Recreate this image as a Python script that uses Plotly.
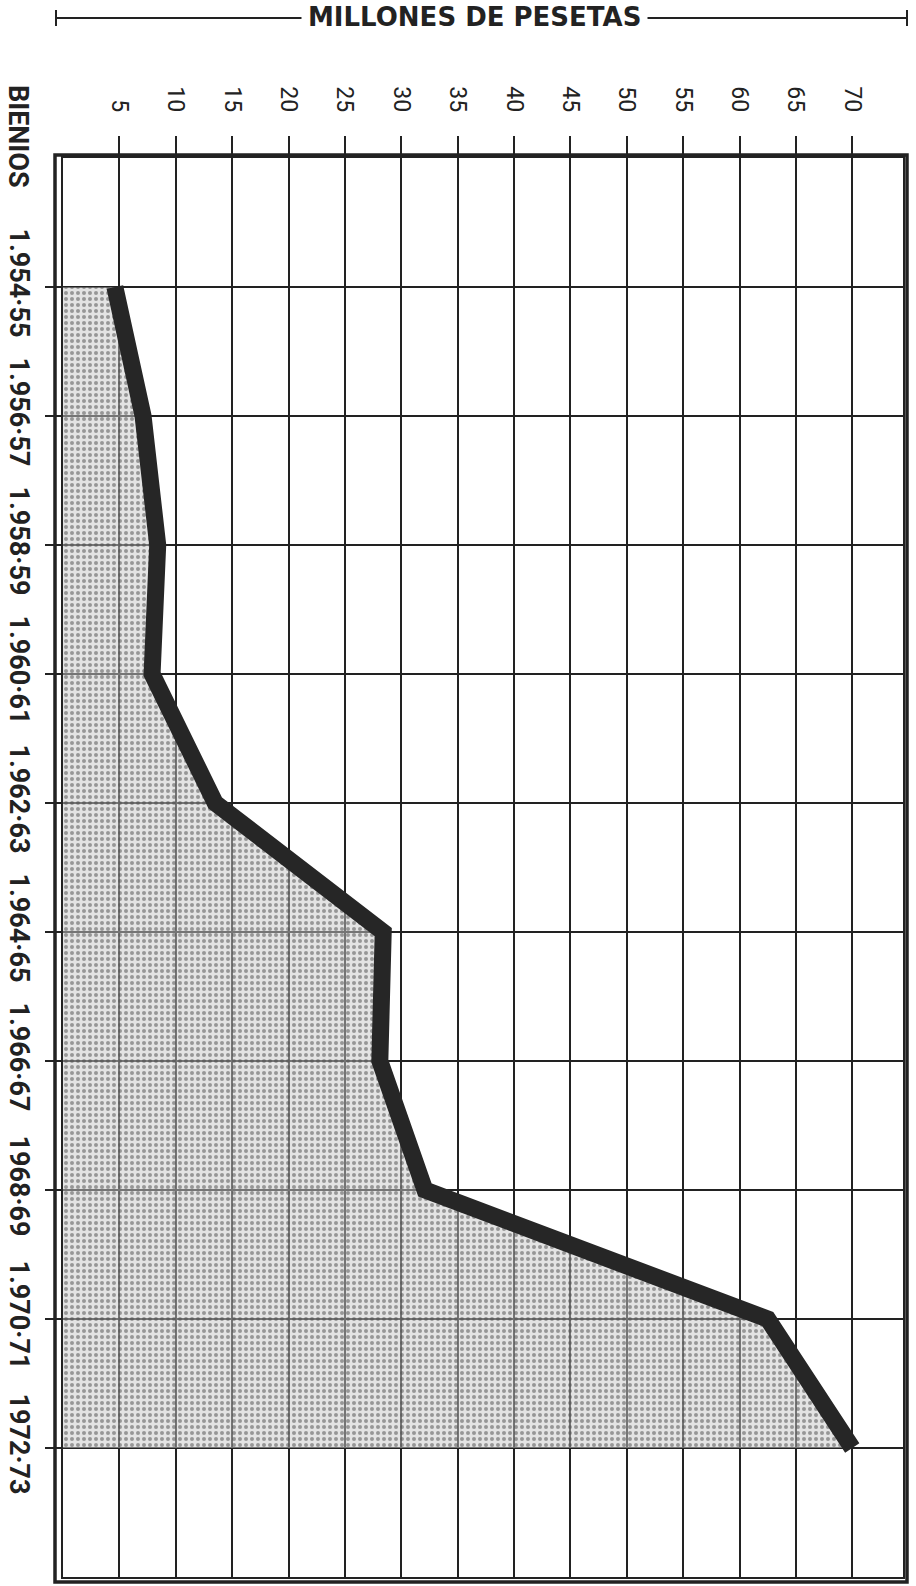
import plotly.graph_objects as go

# ---- data ----
bienios = ["1.954·55", "1.956·57", "1.958·59", "1.960·61", "1.962·63",
           "1.964·65", "1.966·67", "1968·69", "1.970·71", "1972·73"]
millones = [4.6, 7.1, 8.4, 7.9, 13.5, 28.4, 28.1, 32.1, 62.5, 70.0]
x_ticks = [5, 10, 15, 20, 25, 30, 35, 40, 45, 50, 55, 60, 65, 70]
x_tick_labels = [str(v) for v in x_ticks]
x_title = "MILLONES DE PESETAS"
y_title = "BIENIOS"

INK = "#222222"
W, H = 916, 1586
L, R, T, B = 63, 13, 158, 9
PW, PH = W - L - R, H - T - B


def px_x(p):
    return (p - L) / PW


def px_y(p):
    return 1 - (p - T) / PH


fig = go.Figure()
fig.add_trace(go.Scatter(
    x=millones, y=bienios, mode="lines",
    line=dict(color="#262626", width=17),
    fill="tozerox",
    fillcolor="rgba(195,195,195,0.5)",
    fillpattern=dict(shape=".", fgcolor="#4a4a4a", bgcolor="rgba(200,200,200,0.5)",
                     size=6, solidity=0.36),
    hoverinfo="skip", showlegend=False,
))

fig.update_layout(
    width=W, height=H,
    margin=dict(l=L, r=R, t=T, b=B, pad=0),
    paper_bgcolor="white", plot_bgcolor="white",
    showlegend=False,
    xaxis=dict(
        side="top", range=[0, 74.5], automargin=False,
        tickmode="array", tickvals=x_ticks, ticktext=x_tick_labels,
        tickangle=90, ticks="outside", ticklen=20, tickwidth=1.5, tickcolor=INK,
        ticklabelstandoff=16,
        tickfont=dict(family="Roboto", size=23, color=INK),
        showgrid=True, gridcolor=INK, gridwidth=1.5,
        showline=True, linecolor=INK, linewidth=1.5, mirror=True,
        zeroline=False, fixedrange=True,
    ),
    yaxis=dict(
        type="category", range=[10, -1], automargin=False,
        tickangle=90, ticks="outside", ticklen=16, tickwidth=1.5, tickcolor=INK,
        ticklabelstandoff=3,
        tickfont=dict(family="Roboto", size=27, color=INK, weight="bold"),
        showgrid=True, gridcolor=INK, gridwidth=1.5,
        showline=True, linecolor=INK, linewidth=1.5, mirror=True,
        zeroline=False, fixedrange=True,
    ),
)

# outer heavy frame
fig.add_shape(type="rect", xref="paper", yref="paper",
              x0=px_x(55), x1=px_x(907), y0=px_y(1582), y1=px_y(155),
              line=dict(color=INK, width=3.5), layer="above")

# title with bracket line
ty = px_y(18)
fig.add_shape(type="line", xref="paper", yref="paper",
              x0=px_x(56), x1=px_x(907), y0=ty, y1=ty,
              line=dict(color=INK, width=2), layer="below")
for xp in [px_x(56), px_x(907)]:
    fig.add_shape(type="line", xref="paper", yref="paper",
                  x0=xp, x1=xp, y0=px_y(26), y1=px_y(10),
                  line=dict(color=INK, width=2))
fig.add_annotation(text=x_title, xref="paper", yref="paper",
                   x=px_x(474), y=px_y(17),
                   showarrow=False, xanchor="center", yanchor="middle",
                   font=dict(family="DejaVu Sans", size=26, color=INK, weight="bold"),
                   bgcolor="white", borderpad=6)

# BIENIOS label
fig.add_annotation(text=y_title, xref="paper", yref="paper",
                   x=px_x(18), y=px_y(136),
                   showarrow=False, textangle=90,
                   xanchor="center", yanchor="middle",
                   font=dict(family="Roboto", size=27, color=INK, weight="bold"))

fig.write_html("out.html", config={"displayModeBar": False},
               post_script="document.body.style.margin='0';")
